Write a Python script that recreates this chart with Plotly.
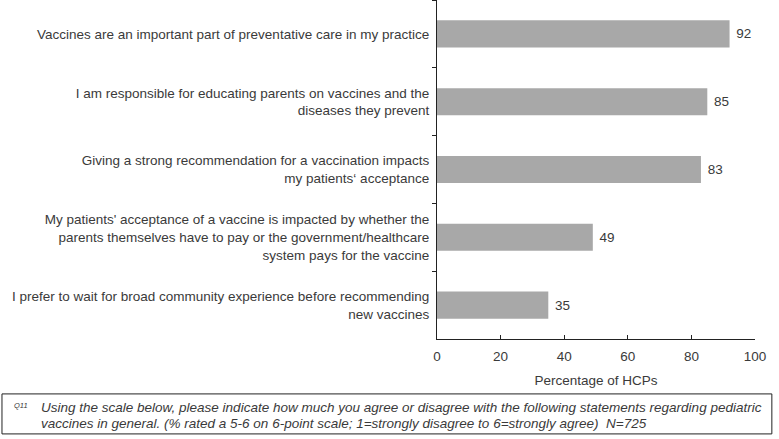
import plotly.graph_objects as go

# survey statements (top to bottom) and % rating 5-6
statements = [
    "Vaccines are an important part of preventative care in my practice",
    "I am responsible for educating parents on vaccines and the<br>diseases they prevent",
    "Giving a strong recommendation for a vaccination impacts<br>my patients\u2018 acceptance",
    "My patients' acceptance of a vaccine is impacted by whether the<br>parents themselves have to pay or the government/healthcare<br>system pays for the vaccine",
    "I prefer to wait for broad community experience before recommending<br>new vaccines",
]
pct_hcps = [92, 85, 83, 49, 35]
x_ticks = [0, 20, 40, 60, 80, 100]

footnote_lines = [
    "Using the scale below, please indicate how much you agree or disagree with the following statements regarding pediatric",
    "vaccines in general. (% rated a 5-6 on 6-point scale; 1=strongly disagree to 6=strongly agree)  N=725",
]

FONT = "Liberation Sans, Arial, sans-serif"
TXT = "#3a3a3a"

fig = go.Figure(go.Bar(
    x=pct_hcps,
    y=statements,
    orientation="h",
    marker=dict(color="#a8a8a8", line=dict(width=0)),
    width=0.4,
    text=pct_hcps,
    texttemplate="\u00a0%{x}",
    textposition="outside",
    textfont=dict(size=13.5, color=TXT, family=FONT),
    cliponaxis=False,
))

fig.update_layout(
    width=779, height=439,
    margin=dict(l=437, r=24, t=0, b=100, autoexpand=False),
    plot_bgcolor="white", paper_bgcolor="white",
    font=dict(family=FONT, size=13.5, color=TXT),
    showlegend=False,
    bargap=0.6,
)

fig.update_xaxes(
    range=[0, 100], tickvals=x_ticks, showgrid=False, zeroline=False,
    showline=True, linecolor="#222", linewidth=1.2, automargin=False,
    ticks="inside", ticklen=4, tickcolor="#222", ticklabelstandoff=5,
    tickfont=dict(size=13.5, color=TXT),
    title=dict(text="Percentage of HCPs", font=dict(size=13.5, color=TXT), standoff=12),
)
fig.update_yaxes(
    autorange="reversed", showgrid=False, automargin=False,
    showline=True, linecolor="#222", linewidth=1.2,
    ticks="outside", ticklen=4, tickcolor="#222", tickson="boundaries",
    ticklabelstandoff=4,
    tickfont=dict(size=13.5, color=TXT),
)

# footnote box with question text
fig.add_shape(type="rect", xref="paper", yref="paper",
              x0=-1.368, x1=1.053, y0=-0.280, y1=-0.162,
              line=dict(color="#222", width=1))
fig.add_annotation(xref="paper", yref="paper", x=-1.336, y=-0.195,
                   text="<i>Q11</i>", showarrow=False, xanchor="left", yanchor="middle",
                   font=dict(size=7.5, color=TXT))
for line, ypos in zip(footnote_lines, [-0.2035, -0.2507]):
    fig.add_annotation(xref="paper", yref="paper", x=-1.252, y=ypos,
                       text="<i>" + line + "</i>", showarrow=False, align="left",
                       xanchor="left", yanchor="middle",
                       font=dict(size=13.5, color=TXT))

# page has default body margin; drop it so the figure sits at the window corner
fig.write_html("out.html", config={"displayModeBar": False},
               post_script="document.body.style.margin='0';")
